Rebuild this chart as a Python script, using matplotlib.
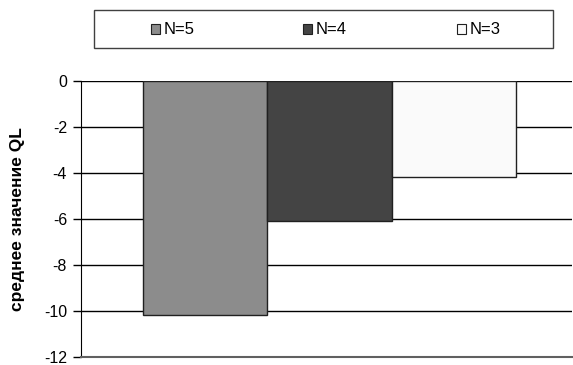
import numpy as np
import matplotlib.pyplot as plt
from matplotlib.patches import Rectangle

plt.rcParams['font.family'] = ['Liberation Sans', 'DejaVu Sans']

labels = ['N=5', 'N=4', 'N=3']
values = [-10.2, -6.1, -4.2]
colors = ['#8c8c8c', '#444444', '#fafafa']
yticks = [0, -2, -4, -6, -8, -10, -12]

fig = plt.figure(figsize=(5.73, 3.65), dpi=100)
ax = fig.add_axes([81 / 573, 8.3 / 365, 491 / 573, 276 / 365])

w = 0.2535
x0 = 0.0065
for i, (v, c) in enumerate(zip(values, colors)):
    ax.bar(x0 + (i - 1) * w, v, width=w, color=c, edgecolor='#202020', linewidth=1.0, zorder=3)

ax.set_xlim(-0.5, 0.5)
ax.set_ylim(-12, 0)
ax.set_yticks(yticks)
ax.set_yticklabels([str(t) for t in yticks], fontsize=11.5)
ax.set_xticks([])
ax.grid(axis='y', color='black', linewidth=1.0, zorder=0)
ax.set_axisbelow(True)
for s in ['top', 'right']:
    ax.spines[s].set_visible(False)
ax.spines['left'].set_color('black')
ax.spines['bottom'].set_color('#606060')
ax.spines['bottom'].set_linewidth(1.5)
ax.tick_params(axis='y', length=6, width=1, pad=4)
ax.set_ylabel('среднее значение QL', fontsize=12.5, fontweight='bold')
ax.yaxis.set_label_coords(-56 / 491, 0.5)

# legend box
fig.add_artist(Rectangle((94 / 573, 1 - 48 / 365), 459 / 573, 38 / 365,
                         transform=fig.transFigure, facecolor='white',
                         edgecolor='#404040', linewidth=1.0))
lx = [151, 303, 457]
for xp, lab, c in zip(lx, labels, colors):
    fig.add_artist(Rectangle((xp / 573, 1 - 33.5 / 365), 9 / 573, 9 / 365,
                             transform=fig.transFigure, facecolor=c,
                             edgecolor='#202020', linewidth=0.8))
    fig.text((xp + 13) / 573, 1 - 29 / 365, lab, fontsize=12, va='center', ha='left')

fig.savefig('out.png', dpi=100)
